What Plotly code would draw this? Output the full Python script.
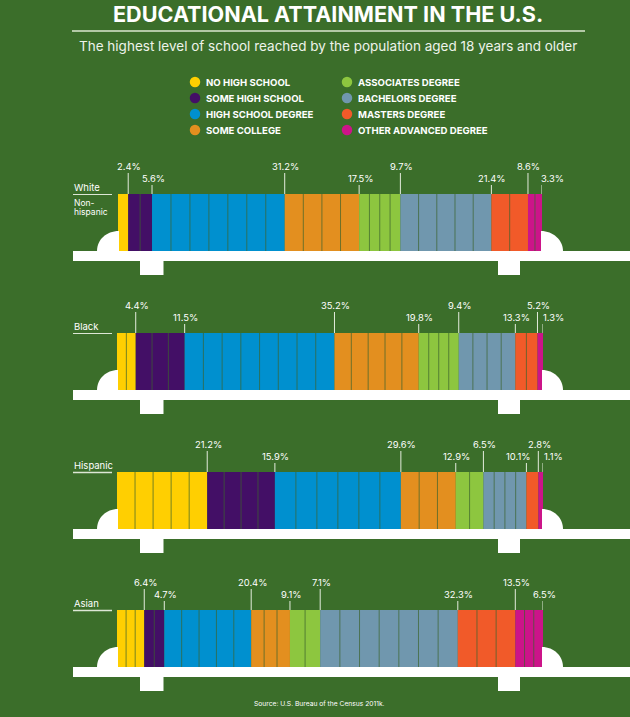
import plotly.graph_objects as go

# education levels, same order in every group
levels = ['No high school', 'Some high school', 'High school degree', 'Some college',
          'Associates degree', 'Bachelors degree', 'Masters degree', 'Other advanced degree']
level_colors = ['#FFCF01', '#430F66', '#0090CF', '#E38F1F',
                '#8DC63F', '#7097AE', '#F15A29', '#CC1489']

legend_left = ['NO HIGH SCHOOL', 'SOME HIGH SCHOOL', 'HIGH SCHOOL DEGREE', 'SOME COLLEGE']
legend_right = ['ASSOCIATES DEGREE', 'BACHELORS DEGREE', 'MASTERS DEGREE', 'OTHER ADVANCED DEGREE']

white = [2.4, 5.6, 31.2, 17.5, 9.7, 21.4, 8.6, 3.3]
black = [4.4, 11.5, 35.2, 19.8, 9.4, 13.3, 5.2, 1.3]
hispanic = [21.2, 15.9, 29.6, 12.9, 6.5, 10.1, 2.8, 1.1]
asian = [6.4, 4.7, 20.4, 9.1, 7.1, 32.3, 13.5, 6.5]

# how many blocks each segment is cut into
white_blocks = [1, 2, 7, 4, 4, 5, 2, 2]
black_blocks = [2, 3, 8, 5, 4, 4, 2, 1]
hispanic_blocks = [5, 4, 6, 3, 2, 4, 1, 1]
asian_blocks = [3, 2, 5, 3, 2, 7, 3, 3]

BG = '#3B6E2A'
FONT = 'Inter'
W, H = 630, 717

# name, values, blocks, bar top px, bar left px, bar right px
groups = [
    ('White', white, white_blocks, 194, 118, 542),
    ('Black', black, black_blocks, 333, 117, 543),
    ('Hispanic', hispanic, hispanic_blocks, 472, 117, 543),
    ('Asian', asian, asian_blocks, 610, 117, 543),
]
BAR_H = 57


def make_group(fig, layout, idx, group):
    name, values, blocks, top, left, right = group
    n = idx + 1
    xa, ya = f'x{n}', f'y{n}'
    layout[f'xaxis{n}'] = dict(domain=[left / W, right / W], range=[0, sum(values)],
                               visible=False, anchor=ya, fixedrange=True)
    layout[f'yaxis{n}'] = dict(domain=[1 - (top + BAR_H) / H, 1 - top / H], range=[-0.5, 0.5],
                               visible=False, anchor=xa, fixedrange=True)

    base = 0
    div_x, div_y = [], []
    for level, val, cnt, color in zip(levels, values, blocks, level_colors):
        fig.add_trace(go.Bar(x=[val], y=[0], base=[base], orientation='h', width=1, name=level,
                             marker=dict(color=color, line_width=0), xaxis=xa, yaxis=ya))
        for k in range(1, cnt):
            pos = base + val * k / cnt
            div_x += [pos, pos, None]
            div_y += [-0.5, 0.5, None]
        base += val
    fig.add_trace(go.Scatter(x=div_x, y=div_y, mode='lines', xaxis=xa, yaxis=ya,
                             line=dict(color='rgba(60,100,45,0.7)', width=1)))


def add_leaders(shapes, annotations, idx, group):
    name, values, blocks, top, left, right = group
    xa = f'x{idx + 1}'
    pos = 0
    for i, val in enumerate(values):
        pos += val
        tall = i % 2 == 0
        shapes.append(dict(type='line', xref=xa, yref='y5', x0=pos, x1=pos,
                           y0=top - (21 if tall else 9), y1=top,
                           line=dict(color='#E4ECDD', width=1)))
        shift = 10 if i == len(values) - 1 and val < 4 else 1
        if name == 'Hispanic' and i == 5:
            shift = -8  # pushed left to clear the 2.8% label
        annotations.append(dict(text=f'{val}%', xref=xa, yref='y5', x=pos, xshift=shift,
                                y=top - (27.5 if tall else 15.5), showarrow=False,
                                font=dict(family=FONT, size=9.4, color='white')))


def add_platform(shapes, group):
    top = group[3]
    bottom = top + BAR_H
    left, right = group[4], group[5]
    boxes = [(73, bottom, 630, bottom + 10), (140, bottom + 10, 163.5, bottom + 24),
             (498, bottom + 10, 520, bottom + 24)]
    for x0, y0, x1, y1 in boxes:
        shapes.append(dict(type='rect', xref='x5', yref='y5', x0=x0, x1=x1, y0=y0, y1=y1,
                           fillcolor='white', line_width=0, layer='below'))
    ht = bottom - 20
    hump_l = f'M97,{bottom} C97,{ht + 9} 106,{ht} {left + 1},{ht} L{left + 1},{bottom} Z'
    hump_r = f'M{right - 1},{bottom} L{right - 1},{ht} C{right + 11},{ht} 563,{ht + 9} 563,{bottom} Z'
    for path in (hump_l, hump_r):
        shapes.append(dict(type='path', xref='x5', yref='y5', path=path,
                           fillcolor='white', line_width=0, layer='below'))


def px_text(text, x, y, size, bold=False, anchor='left', color='white', family=FONT):
    return dict(text=f'<b>{text}</b>' if bold else text, xref='x5', yref='y5', x=x, y=y,
                xanchor=anchor, yanchor='middle', showarrow=False,
                font=dict(family=family, size=size, color=color))


fig = go.Figure()
layout = {}
shapes = []
annotations = []

for idx, group in enumerate(groups):
    make_group(fig, layout, idx, group)
    add_leaders(shapes, annotations, idx, group)
    add_platform(shapes, group)
    underline_y = group[3] + 0.5
    shapes.append(dict(type='line', xref='x5', yref='y5', x0=73, x1=112, y0=underline_y, y1=underline_y,
                       line=dict(color='#DDE7D5', width=1.2 if idx < 2 else 1.6)))
    annotations.append(px_text(group[0], 71.5, group[3] - 7, 9.5))

annotations.append(px_text('Non-', 71.5, 202.5, 8.5))
annotations.append(px_text('hispanic', 71.5, 211.5, 8.5))

# page furniture uses a full-page pixel axis
layout['xaxis5'] = dict(domain=[0, 1], range=[0, W], visible=False, anchor='y5', fixedrange=True)
layout['yaxis5'] = dict(domain=[0, 1], range=[H, 0], visible=False, anchor='x5', fixedrange=True)

legend_rows = [82, 98, 114, 130]
fig.add_trace(go.Scatter(x=[195] * 4 + [347] * 4, y=legend_rows * 2, mode='markers', xaxis='x5', yaxis='y5',
                         marker=dict(size=10.5, color=level_colors)))
for label, y in zip(legend_left, legend_rows):
    annotations.append(px_text(label, 204, y, 9.6, bold=True))
for label, y in zip(legend_right, legend_rows):
    annotations.append(px_text(label, 356, y, 9.6, bold=True))

annotations.append(px_text('EDUCATIONAL ATTAINMENT IN THE U.S.', 328, 13.5, 21.6, bold=True, anchor='center'))
annotations.append(px_text('The highest level of school reached by the population aged 18 years and older',
                           328, 45.5, 13.5, anchor='center', color='#EEF3EA'))
annotations.append(px_text('Source: U.S. Bureau of the Census 2011k.', 319, 704, 6.7, anchor='center'))
shapes.append(dict(type='line', xref='x5', yref='y5', x0=72, x1=585, y0=31, y1=31,
                   line=dict(color='#B3C9A6', width=2)))

fig.update_layout(width=W, height=H, margin=dict(l=0, r=0, t=0, b=0), showlegend=False,
                  paper_bgcolor=BG, plot_bgcolor='rgba(0,0,0,0)', barmode='overlay',
                  shapes=shapes, annotations=annotations, **layout)

fig.write_html("out.html", config={'displayModeBar': False},
               post_script="document.body.style.margin='0';document.body.style.background='#3B6E2A';")
